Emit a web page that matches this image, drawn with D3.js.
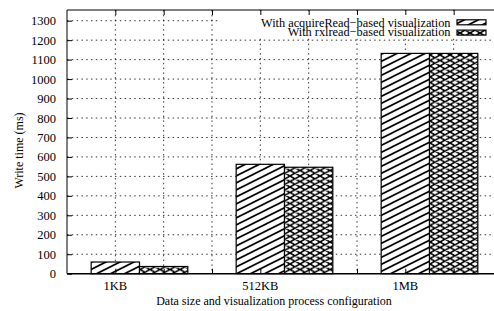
<!DOCTYPE html>
<html>
<head>
<meta charset="utf-8">
<script src="https://cdn.jsdelivr.net/npm/d3@7"></script>
<style>
  body { margin: 0; background: #fff; }
  svg { display: block; }
  svg text { font-family: "Liberation Serif", "Times New Roman", serif; fill: #000; }
</style>
</head>
<body>
<svg id="chart" width="494" height="311"></svg>
<script>
// ---- data ----
const categories = ["1KB", "512KB", "1MB"];
const seriesNames = ["With acquireRead\u2212based visualization", "With rxlread\u2212based visualization"];
const acquireRead = [60, 562, 1132];
const rxlread = [37, 547, 1132];
const yTicks = [0, 100, 200, 300, 400, 500, 600, 700, 800, 900, 1000, 1100, 1200, 1300];
const xGrid = [0, 1, 2, 3, 4, 5, 6, 7];
const yTitle = "Write time (ms)";
const xTitle = "Data size and visualization process configuration";

const series = [acquireRead, rxlread];

const svg = d3.select("#chart");
const mL = 67, mT = 10, mB = 273.7, mR = 502;
const fs = "12px";
const ff = "Liberation Serif";

const x = d3.scaleLinear().domain([-1, 8]).range([mL, mR]);
const y = d3.scaleLinear().domain([0, 1355]).range([mB, mT]);

// patterns
const defs = svg.append("defs");
const p1 = defs.append("pattern").attr("id", "pat1").attr("patternUnits", "userSpaceOnUse")
  .attr("width", 14).attr("height", 7);
p1.append("rect").attr("width", 14).attr("height", 7).attr("fill", "#fff");
p1.append("path").attr("d", "M-14,14 L14,0 M0,14 L28,0 M-14,7 L14,-7 M0,7 L28,-7")
  .attr("stroke", "#000").attr("stroke-width", 1.7).attr("fill", "none");

const p2 = defs.append("pattern").attr("id", "pat2").attr("patternUnits", "userSpaceOnUse")
  .attr("width", 10).attr("height", 5.5);
p2.append("rect").attr("width", 10).attr("height", 5.5).attr("fill", "#fff");
p2.append("path").attr("d", "M-10,0 L10,11 M0,0 L20,11 M-10,-5.5 L10,5.5 M0,-5.5 L20,5.5 M-10,5.5 L10,-5.5 M0,5.5 L20,-5.5 M-10,11 L10,0 M0,11 L20,0")
  .attr("stroke", "#000").attr("stroke-width", 1.5).attr("fill", "none");

const pats = ["url(#pat1)", "url(#pat2)"];

// grid
const grid = svg.append("g").attr("stroke", "#000").attr("stroke-width", 0.8)
  .attr("stroke-dasharray", "1.5,3.3");
grid.selectAll("line.h").data(yTicks.filter(d => d > 0)).join("line").attr("class", "h")
  .attr("x1", mL).attr("x2", mR).attr("y1", d => y(d)).attr("y2", d => y(d));
grid.selectAll("line.v").data(xGrid).join("line").attr("class", "v")
  .attr("x1", d => x(d)).attr("x2", d => x(d)).attr("y1", mT).attr("y2", mB);

// key background
svg.append("rect").attr("x", 218).attr("y", mT + 1).attr("width", 494 - 218).attr("height", 27).attr("fill", "#fff");

// bars
const bars = [];
categories.forEach((c, ci) => series.forEach((s, si) => bars.push({ ci, si, v: s[ci] })));
svg.append("g").selectAll("rect").data(bars).join("rect")
  .attr("x", d => x(d.ci * 3 + d.si - 0.5))
  .attr("width", d => x(d.ci * 3 + d.si + 0.5) - x(d.ci * 3 + d.si - 0.5))
  .attr("y", d => y(d.v))
  .attr("height", d => y(0) - y(d.v))
  .attr("fill", d => pats[d.si])
  .attr("stroke", "#000").attr("stroke-width", 1.2);

// frame
const frame = svg.append("g").attr("stroke", "#000").attr("fill", "none");
frame.append("line").attr("x1", mL).attr("x2", mR).attr("y1", mT).attr("y2", mT).attr("stroke-width", 1);
frame.append("line").attr("x1", mL).attr("x2", mR).attr("y1", mB).attr("y2", mB).attr("stroke-width", 1.4);
frame.append("line").attr("x1", mL).attr("x2", mL).attr("y1", mT).attr("y2", mB).attr("stroke-width", 1);

// ticks
const yAxis = d3.axisLeft(y).tickValues(yTicks).tickSize(-5).tickPadding(11).tickFormat(d3.format("d"));
const ya = svg.append("g").attr("transform", `translate(${mL},0)`).call(yAxis)
  .attr("font-family", ff).attr("font-size", fs);
ya.select(".domain").remove();
ya.selectAll("text").attr("font-size", "12.5px").attr("font-family", ff).attr("fill", "#000");
ya.selectAll("line").attr("stroke", "#000");

const tTop = svg.append("g").attr("transform", `translate(0,${mT})`)
  .call(d3.axisTop(x).tickValues(xGrid).tickSize(-5).tickFormat(""));
tTop.select(".domain").remove();
tTop.selectAll("line").attr("stroke", "#000");
const tBot = svg.append("g").attr("transform", `translate(0,${mB})`)
  .call(d3.axisBottom(x).tickValues(xGrid).tickSize(-5).tickFormat(""));
tBot.select(".domain").remove();
tBot.selectAll("line").attr("stroke", "#000");

// category labels
svg.append("g").selectAll("text").data(categories).join("text")
  .attr("x", (d, i) => x(i * 3)).attr("y", 290)
  .attr("text-anchor", "middle").attr("font-family", ff).attr("font-size", "12.5px").text(d => d);

// axis titles
svg.append("text").attr("x", 274).attr("y", 304.5).attr("text-anchor", "middle")
  .attr("font-family", ff).attr("font-size", fs).text(xTitle);
svg.append("text").attr("transform", "translate(22.5,150.5) rotate(-90)").attr("text-anchor", "middle")
  .attr("font-family", ff).attr("font-size", fs).text(yTitle);

// legend
const lg = svg.append("g");
seriesNames.forEach((n, i) => {
  lg.append("text").attr("x", 450.5).attr("y", 27 + i * 9.3).attr("text-anchor", "end")
    .attr("font-family", ff).attr("font-size", "12.3px").text(n);
  lg.append("rect").attr("x", 457).attr("y", 19.8 + i * 10.3).attr("width", 29).attr("height", 5)
    .attr("fill", pats[i]).attr("stroke", "#000").attr("stroke-width", 1.2);
});
</script>
</body>
</html>
